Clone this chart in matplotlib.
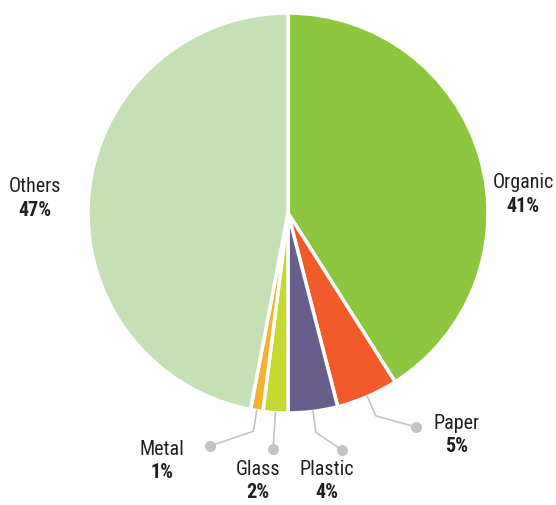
import numpy as np
import matplotlib.pyplot as plt
from matplotlib import font_manager

# Waste composition shares (%)
categories = ["Organic", "Paper", "Plastic", "Glass", "Metal", "Others"]
shares = [41, 5, 4, 2, 1, 47]
colors = ["#8DC63F", "#F15A2B", "#675E8B", "#C5D930", "#F6B132", "#C6E0B6"]

names = {f.name for f in font_manager.fontManager.ttflist}
family = ["Liberation Sans Narrow", "Roboto Condensed", "Liberation Sans", "DejaVu Sans"]
family = [f for f in family if f in names] or ["DejaVu Sans"]
plt.rcParams["font.family"] = family

W, H = 556, 506
fig = plt.figure(figsize=(W / 100, H / 100), dpi=100)
ax = fig.add_axes([0, 0, 1, 1])

cx, cy, R = 288, H - 214, 200
wedges, _ = ax.pie(shares, colors=colors, startangle=90, counterclock=False,
                   center=(cx, cy), radius=R, frame=True,
                   wedgeprops=dict(edgecolor="white", linewidth=2.5))
ax.set_xlim(0, W)
ax.set_ylim(0, H)
ax.axis("off")

# label placement (pixel coords from top-left): name position, leader dot or None
label_pos = {
    "Organic": ((523, 183), None),
    "Others": ((35, 187), None),
    "Paper": ((457, 424), (416, 428)),
    "Plastic": ((327, 470), (342, 451)),
    "Glass": ((258, 470), (273, 450)),
    "Metal": ((162, 450), (210, 447)),
}

text_color = "#231F20"
line_color = "#C4C4C4"
for w, name, val in zip(wedges, categories, shares):
    (tx, ty), dot = label_pos[name]
    ax.text(tx, H - ty, name, ha="center", va="center", fontsize=14.5,
            color=text_color)
    ax.text(tx, H - ty - 23, f"{val}%", ha="center", va="center", fontsize=14.5,
            fontweight="bold", color=text_color)
    if dot is not None:
        ang = np.deg2rad((w.theta1 + w.theta2) / 2)
        x0, y0 = cx + R * np.cos(ang), cy + R * np.sin(ang)
        x1, y1 = cx + 221 * np.cos(ang), cy + 221 * np.sin(ang)
        dx, dy = dot[0], H - dot[1]
        ax.plot([x0, x1, dx], [y0, y1, dy], color=line_color, lw=1.2,
                solid_joinstyle="miter", zorder=1)
        ax.plot(dx, dy, "o", ms=8, color=line_color, mec="none", zorder=2)

fig.savefig("out.png", dpi=100)
